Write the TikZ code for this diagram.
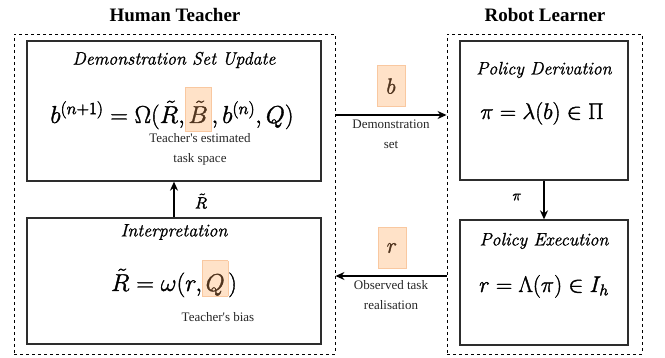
\IfFileExists{fix-cm.sty}{\RequirePackage{fix-cm}}{}
\documentclass[tikz,border=0pt]{standalone}
\usepackage{amsmath}
\usepackage{fontspec}
\newfontfamily\tms{Liberation Serif}
\usetikzlibrary{arrows.meta}

\definecolor{hlfill}{RGB}{255,226,200}
\definecolor{hlborder}{RGB}{249,200,160}
\definecolor{hltext}{RGB}{80,52,30}
\definecolor{boxline}{RGB}{45,45,45}

% slightly heavier glyph outlines
\newcommand{\heavy}[1]{\special{pdf:literal 2 Tr 0.35 w}#1\special{pdf:literal 0 Tr 1 w}}
\newcommand{\semiheavy}[1]{\special{pdf:literal 2 Tr 0.2 w}#1\special{pdf:literal 0 Tr 1 w}}

% highlighted symbol inside a formula: #1 depth, #2 total height, #3 symbol
\newcommand{\hlsym}[3]{{\setlength{\fboxsep}{0pt}\setlength{\fboxrule}{0.6pt}%
  \fcolorbox{hlborder}{hlfill}{\kern3pt\textcolor{hltext}{\rule[-#1]{0pt}{#2}\heavy{$#3$}}\kern3pt}}}

\begin{document}
\begin{tikzpicture}[x=1pt,y=-1pt,
  stage/.style={draw=boxline,line width=1.3pt,inner sep=0pt},
  group/.style={draw=black,line width=0.9pt,dash pattern=on 3pt off 3pt,minimum height=320pt,inner sep=0pt},
  title/.style={font=\tms\fontsize{19}{22}\selectfont\bfseries},
  head/.style={font=\fontsize{18}{22}\selectfont\itshape},
  bigformula/.style={font=\fontsize{24.5}{28}\selectfont,anchor=base,inner sep=0pt},
  formula/.style={font=\fontsize{22.5}{26}\selectfont,anchor=base,inner sep=0pt},
  note/.style={font=\tms\fontsize{13}{20}\selectfont,align=center,text=black!85},
  hl/.style={fill=hlfill,draw=hlborder,line width=0.6pt,minimum width=28pt,minimum height=41pt,inner sep=0pt,font=\fontsize{22}{26}\selectfont,text=hltext},
  flow/.style={-{Stealth[length=9pt,width=8pt]},line width=1.3pt}
]
\useasboundingbox (0,0) rectangle (665,358);

% groups
\node[title] (ht) at (175,15) {Human Teacher};
\node[title] (rl) at (545,15) {Robot Learner};
\node[group,minimum width=321pt] (human) at (174.5,194) {};
\node[group,minimum width=195pt] (robot) at (544.5,194) {};

% stages
\node[stage,minimum width=294pt,minimum height=140pt] (dsu) at (174,111) {};
\node[stage,minimum width=294pt,minimum height=126pt] (int) at (174,281) {};
\node[stage,minimum width=168pt,minimum height=139pt] (pd) at (544,110.5) {};
\node[stage,minimum width=168pt,minimum height=125pt] (pe) at (544,282.5) {};

% demonstration set update
\node[head] (dsuh) at (174,60) {\semiheavy{Demonstration Set Update}};
\node[bigformula] (dsuf) at (172,123) {\heavy{$b^{(n+1)}=\Omega(\tilde R,$}$\hlsym{8pt}{43pt}{\tilde B}$\heavy{$,b^{(n)},Q)$}};
\node[note] (dsun) at (200,149) {Teacher's estimated\\task space};

% interpretation
\node[head] (inth) at (174,232) {\semiheavy{Interpretation}};
\node[bigformula] (intf) at (174,291) {\heavy{$\tilde R=\omega(r,$}$\hlsym{4pt}{34pt}{Q}$\heavy{$)$}};
\node[note] (intn) at (218,317) {Teacher's bias};

% policy derivation
\node[head] (pdh) at (544,70) {\semiheavy{Policy Derivation}};
\node[formula] (pdf) at (542,119) {\heavy{$\pi=\lambda(b)\in\Pi$}};

% policy execution
\node[head] (peh) at (544,241) {\semiheavy{Policy Execution}};
\node[formula] (pef) at (544,292) {\heavy{$r=\Lambda(\pi)\in I_h$}};

% connectors
\coordinate (bs) at (human.east |- 0,115);
\coordinate (be) at (robot.west |- 0,115);
\draw[flow] (bs) -- (be);
\node[hl] (bl) at (391,86) {\heavy{$b$}};
\node[note] (bn) at (391,134) {Demonstration\\set};

\coordinate (rs) at (robot.west |- 0,276);
\coordinate (re) at (human.east |- 0,276);
\draw[flow] (rs) -- (re);
\node[hl] (rlb) at (392,248) {\heavy{$r$}};
\node[note] (rn) at (391,295) {Observed task\\realisation};

\draw[flow] (int.north) -- (dsu.south);
\node[font=\fontsize{16}{18}\selectfont] (rt) at (201,201) {\heavy{$\tilde R$}};

\draw[flow] (pd.south) -- (pe.north);
\node[font=\fontsize{15}{18}\selectfont] (pil) at (517,197) {\heavy{$\pi$}};
\end{tikzpicture}
\end{document}
